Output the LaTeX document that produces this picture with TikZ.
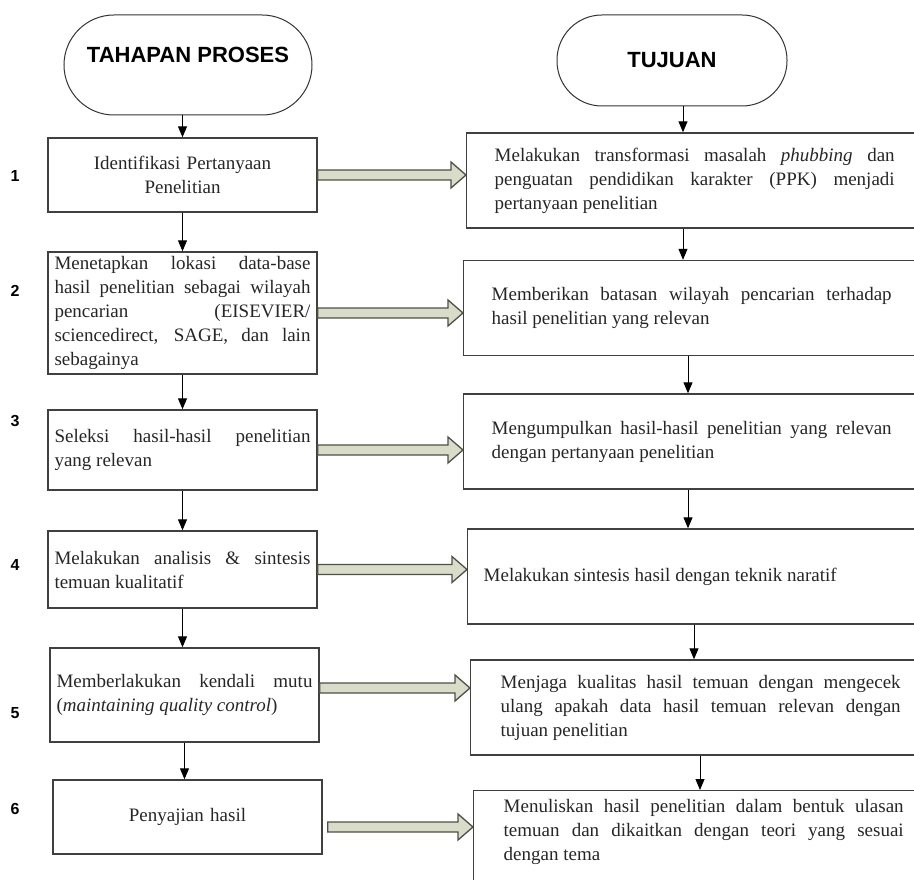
\documentclass[tikz,border=0pt]{standalone}
\usepackage{fontspec}
\setmainfont{Liberation Serif}
\newfontfamily\headfont{Liberation Sans}
\usetikzlibrary{arrows.meta,calc}
\definecolor{lineC}{RGB}{ 64, 64, 64}
\definecolor{fatF}{RGB}{216,220,200}
\definecolor{fatD}{RGB}{ 78, 80, 70}
\tolerance=9999 \hbadness=10000

% wide hollow arrow between a step and its goal
\newcommand{\fatarrow}[2]{%
  \draw[fat] let \p1=(#1), \p2=(#2) in
    (\x1,\y1+5pt) -- (\x2-15pt,\y1+5pt) -- (\x2-15pt,\y1+13pt) -- (\x2,\y1)
    -- (\x2-15pt,\y1-13pt) -- (\x2-15pt,\y1-5pt) -- (\x1,\y1-5pt) -- cycle;}

\begin{document}
\begin{tikzpicture}[
  x=1pt, y=-1pt,
  font=\fontsize{19}{24}\selectfont,
  term/.style={draw=black!80, line width=1pt,
               font=\headfont\bfseries\fontsize{22}{26}\selectfont},
  lbox/.style={draw=lineC, line width=1.4pt, minimum width=269pt, inner xsep=5pt,
               inner ysep=3pt, text width=256pt, align=justify, text=black!85},
  rbox/.style={draw=lineC, line width=1.4pt, anchor=west, inner xsep=30pt,
               inner ysep=3pt, minimum height=95pt, text width=400pt,
               align=justify, text=black!85},
  num/.style={font=\headfont\bfseries\fontsize{16}{18}\selectfont},
  arr/.style={draw=black, line width=1pt, -{Triangle[length=11pt,width=9pt]}},
  fat/.style={draw=fatD, fill=fatF, line width=1.3pt, line join=miter},
]
\useasboundingbox (0,0) rectangle (914,880);
\clip (0,0) rectangle (914,880);

% ============ left column: process steps ============
\node[term, rounded corners=50pt, minimum width=248pt, minimum height=100pt,
      text depth=20pt] (t1) at (188,65) {TAHAPAN PROSES};

\node[lbox, minimum height=74pt, align=center] (b1) at (182.5,175)
  {Identifikasi Pertanyaan\\Penelitian};
\node[lbox, minimum height=122pt] (b2) at (182.5,313)
  {Menetapkan lokasi data-base\linebreak
   hasil penelitian sebagai wilayah\linebreak
   pencarian (EISEVIER/\linebreak
   sciencedirect, SAGE, dan lain\linebreak
   sebagainya};
\node[lbox, minimum height=80pt] (b3) at (182.5,450)
  {Seleksi hasil-hasil penelitian\linebreak yang relevan};
\node[lbox, minimum height=77pt] (b4) at (182.5,569.5)
  {Melakukan analisis \& sintesis\linebreak temuan kualitatif};
\node[lbox, minimum height=94pt] (b5) at (184.5,695)
  {Memberlakukan kendali mutu\linebreak (\textit{maintaining quality control})};
\node[lbox, minimum height=74pt, align=center] (b6) at (187.5,817)
  {Penyajian hasil};

\node[num] (n1) at (15,176) {1};
\node[num] (n2) at (15,291) {2};
\node[num] (n3) at (15,421) {3};
\node[num] (n4) at (15,565) {4};
\node[num] (n5) at (15,713) {5};
\node[num] (n6) at (15,809) {6};

\draw[arr] (t1.south -| b1.north) -- (b1.north);
\draw[arr] (b1.south) -- (b2.north);
\draw[arr] (b2.south) -- (b3.north);
\draw[arr] (b3.south) -- (b4.north);
\draw[arr] (b4.south) -- (b4.south |- b5.north);
\draw[arr] (b5.south) -- (b5.south |- b6.north);

% ============ right column: goals ============
\node[term, rounded corners=45pt, minimum width=230pt, minimum height=91pt]
  (t2) at (672,60.5) {TUJUAN};

\node[rbox, inner xsep=28pt] (r1) at (466,180.5)
  {Melakukan transformasi masalah \textit{phubbing} dan\linebreak
   penguatan pendidikan karakter (PPK) menjadi\linebreak
   pertanyaan penelitian};
\node[rbox, inner xsep=28pt] (r2) at (463,308)
  {Memberikan batasan wilayah pencarian terhadap\linebreak
   hasil penelitian yang relevan};
\node[rbox, inner xsep=28pt] (r3) at (463,441.5)
  {Mengumpulkan hasil-hasil penelitian yang relevan\linebreak
   dengan pertanyaan penelitian};
\node[rbox, inner xsep=16pt, text width=440pt] (r4) at (467,576.5)
  {Melakukan sintesis hasil dengan teknik naratif};
\node[rbox] (r5) at (470,707.5)
  {Menjaga kualitas hasil temuan dengan mengecek\linebreak
   ulang apakah data hasil temuan relevan dengan\linebreak
   tujuan penelitian};
\node[rbox, anchor=north west, minimum height=0pt, inner ysep=9pt, text depth=90pt]
  (r6) at (473,790)
  {Menuliskan hasil penelitian dalam bentuk ulasan\linebreak
   temuan dan dikaitkan dengan teori yang sesuai\linebreak
   dengan tema};

\draw[arr] (t2.south -| 683,0) -- (r1.north -| 683,0);
\draw[arr] (r1.south -| 683,0) -- (r2.north -| 683,0);
\draw[arr] (r2.south -| 688,0) -- (r3.north -| 688,0);
\draw[arr] (r3.south -| 688,0) -- (r4.north -| 688,0);
\draw[arr] (r4.south -| 694,0) -- (r5.north -| 694,0);
\draw[arr] (r5.south -| 700,0) -- (r6.north -| 700,0);

% ============ step -> goal ============
\fatarrow{b1.east}{r1.west}
\fatarrow{b2.east}{r2.west}
\fatarrow{b3.east}{r3.west}
\fatarrow{b4.east}{r4.west}
\fatarrow{[yshift=7pt]b5.east}{r5.west}
\fatarrow{[xshift=5pt,yshift=-10pt]b6.east}{r6.west}

\end{tikzpicture}
\end{document}
